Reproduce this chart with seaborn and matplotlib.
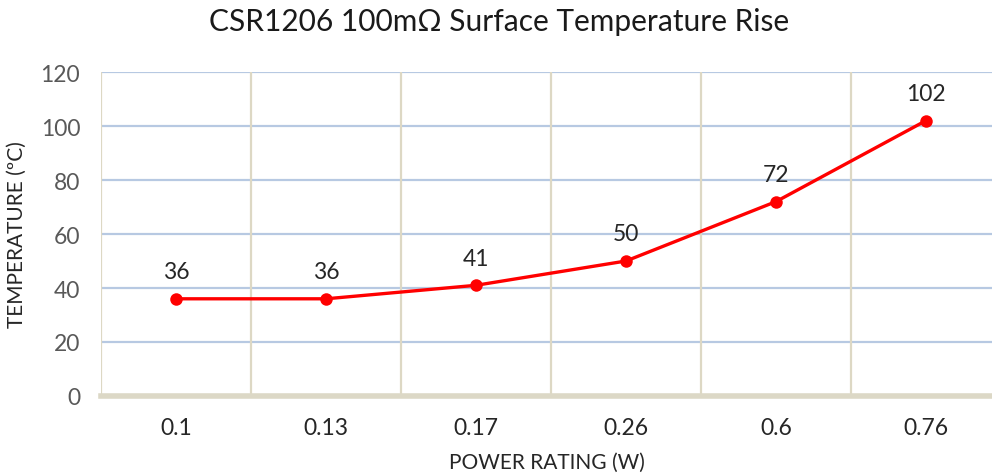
import matplotlib
matplotlib.use("Agg")
import matplotlib.pyplot as plt
import seaborn as sns
import pandas as pd

power = ["0.1", "0.13", "0.17", "0.26", "0.6", "0.76"]
temperature = [36, 36, 41, 50, 72, 102]
y_ticks = [0, 20, 40, 60, 80, 100, 120]

sns.set_theme(style="white")
plt.rcParams['font.family'] = ['Lato', 'DejaVu Sans']

df = pd.DataFrame({"power": power, "temp": temperature})

fig = plt.figure(figsize=(9.92, 4.77), dpi=100)
ax = fig.add_axes([101/992, 80/477, 1 - 101/992, 324/477])

sns.lineplot(data=df, x="power", y="temp", ax=ax, color="#ff0000",
             linewidth=2.4, marker="o", markersize=9, markeredgewidth=0,
             sort=False, zorder=5)

ax.set_ylim(0, 120)
ax.set_xlim(-0.5, len(power) - 0.5 - 9/150)
ax.set_yticks(y_ticks)
ax.set_yticklabels([str(v) for v in y_ticks])

# horizontal gridlines
for v in y_ticks[1:]:
    ax.axhline(v, color="#b7c9e2", linewidth=1.6, zorder=1)
# vertical category boundaries
for i in range(len(power)):
    ax.axvline(i - 0.5, color="#ddd8c4", linewidth=1.6, zorder=1)

for s in ["top", "right", "left"]:
    ax.spines[s].set_visible(False)
ax.spines["bottom"].set_color("#dcd8c6")
ax.spines["bottom"].set_linewidth(4)

ax.tick_params(axis="y", colors="#595959", labelsize=16.5, length=0, pad=15)
ax.tick_params(axis="x", colors="#262626", labelsize=16.5, length=0, pad=15)

for i, v in enumerate(temperature):
    ax.annotate(str(v), (i, v), xytext=(0, 12), textcoords="offset points",
                ha="center", va="bottom", fontsize=16.5, color="#262626")

ax.set_xlabel("POWER RATING (W)", fontsize=15, color="#262626", labelpad=10)
ax.set_ylabel("TEMPERATURE (ºC)", fontsize=15, color="#262626", labelpad=10)
fig.text(0.503, 0.953, "CSR1206 100mΩ Surface Temperature Rise",
         ha="center", va="center", fontsize=21.5, color="#1a1a1a")

fig.savefig("out.png", dpi=100)
